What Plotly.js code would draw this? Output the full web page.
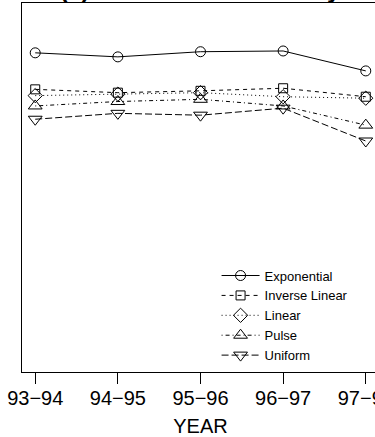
<!DOCTYPE html>
<html>
<head>
<meta charset="utf-8">
<script src="https://cdn.plot.ly/plotly-3.0.1.min.js"></script>
<style>
html,body{margin:0;padding:0;overflow:hidden;background:#fff;width:375px;height:437px;}
#chart{width:400px;height:437px;}
</style>
</head>
<body>
<div id="chart"></div>
<script>
// Data (relative vertical scale 0-100)
var years = ["93\u221294", "94\u221295", "95\u221296", "96\u221297", "97\u221298"];
var exponential   = [86.5, 85.4, 86.8, 87.0, 81.6];
var inverseLinear = [76.6, 75.7, 76.2, 76.9, 74.6];
var linear        = [74.9, 75.3, 75.7, 74.6, 74.2];
var pulse         = [72.1, 73.3, 73.9, 72.1, 66.9];
var uniform       = [68.5, 70.1, 69.6, 71.5, 62.6];
var seriesNames   = ["Exponential", "Inverse Linear", "Linear", "Pulse", "Uniform"];

var seriesData = [exponential, inverseLinear, linear, pulse, uniform];
var dashes  = ["solid", "4px,4px", "1px,3px", "1px,3px,4px,3px", "7px,3px"];
var symbols = ["circle-open", "square-open", "diamond-open", "triangle-up-open", "triangle-down-open"];
var sizes   = [10, 9, 11, 12, 12];

var traces = seriesData.map(function (vals, i) {
  return {
    type: "scatter",
    mode: "lines+markers",
    name: seriesNames[i],
    x: years,
    y: vals,
    line: {color: "#000", width: 1, dash: dashes[i]},
    marker: {symbol: symbols[i], size: sizes[i], color: "#000", line: {color: "#000", width: 1}},
    cliponaxis: false
  };
});

var layout = {
  width: 400,
  height: 437,
  margin: {l: 22, r: 20.5, t: 3, b: 65},
  paper_bgcolor: "#fff",
  plot_bgcolor: "#fff",
  font: {family: "Liberation Sans, Arial, sans-serif", color: "#000"},
  showlegend: true,
  legend: {
    x: 0.545, y: 0.302, xanchor: "left", yanchor: "top",
    bgcolor: "rgba(0,0,0,0)", borderwidth: 0,
    font: {size: 13, color: "#000"},
    itemwidth: 38
  },
  xaxis: {
    type: "category",
    range: [-0.16, 4.16],
    showline: true, mirror: true, linecolor: "#000", linewidth: 1,
    ticks: "outside", ticklen: 11, tickcolor: "#000", tickwidth: 1,
    ticklabelstandoff: -3,
    showgrid: false, zeroline: false,
    tickfont: {size: 20, color: "#000"},
    title: {text: "YEAR", font: {size: 20, color: "#000"}, standoff: 10}
  },
  yaxis: {
    range: [0, 100],
    showline: true, mirror: true, linecolor: "#000", linewidth: 1,
    ticks: "", showticklabels: false, showgrid: false, zeroline: false
  },
  annotations: [{
    text: "<b>(a) Total Return Volatility</b>",
    xref: "paper", yref: "paper", x: 0.5, y: 1.037,
    xanchor: "center", yanchor: "middle", showarrow: false,
    font: {size: 24, color: "#000"}
  }]
};

Plotly.newPlot("chart", traces, layout, {displayModeBar: false, staticPlot: true});
</script>
</body>
</html>
